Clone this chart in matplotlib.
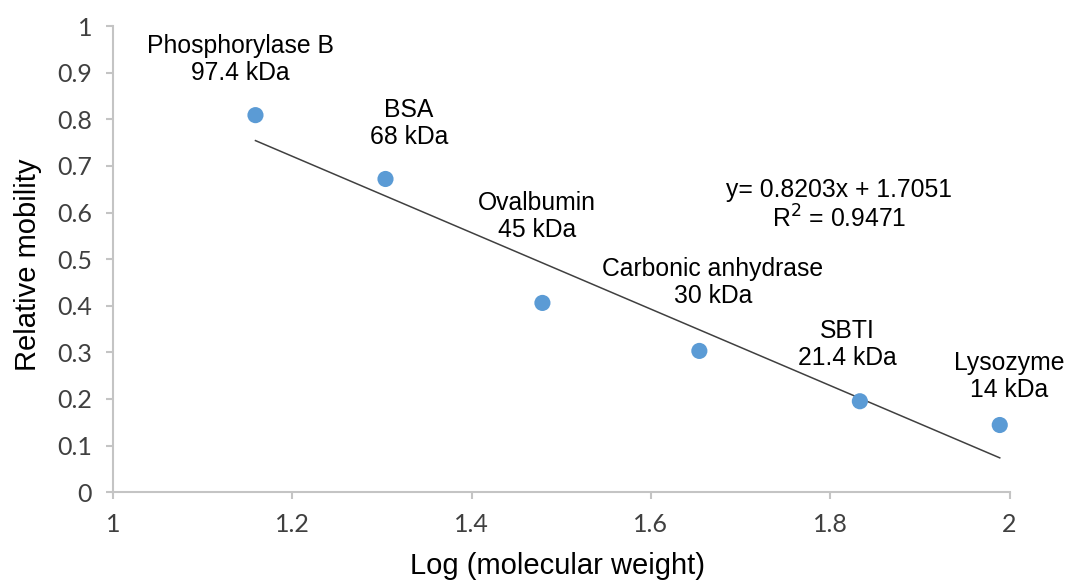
import matplotlib
matplotlib.use('Agg')
import matplotlib.pyplot as plt
import numpy as np

# standards: log(MW) vs relative mobility
proteins = ['Phosphorylase B', 'BSA', 'Ovalbumin', 'Carbonic anhydrase', 'SBTI', 'Lysozyme']
masses = ['97.4 kDa', '68 kDa', '45 kDa', '30 kDa', '21.4 kDa', '14 kDa']
log_mw = [1.159, 1.304, 1.479, 1.654, 1.833, 1.989]
rel_mob = [0.809, 0.672, 0.406, 0.303, 0.195, 0.144]

# linear trendline
slope = -0.8203
intercept = 1.7051
r2 = 0.9471

# where each protein label sits (data coords)
label_pos = [(1.142, 0.928), (1.330, 0.791), (1.473, 0.591),
             (1.669, 0.450), (1.819, 0.317), (2.000, 0.248)]
eq_pos = (1.810, 0.615)

plt.rcParams['font.family'] = ['Liberation Sans', 'DejaVu Sans']

fig = plt.figure(figsize=(10.65, 5.81), dpi=100)
ax = fig.add_axes([0.106, 0.153, 0.842, 0.802])

xs = np.array([min(log_mw), max(log_mw)])
ax.plot(xs, slope * xs + intercept, color='#404040', lw=1.1, zorder=2)
ax.scatter(log_mw, rel_mob, s=135, color='#5b9bd5', edgecolors='none', zorder=3)

for name, mass, (px, py) in zip(proteins, masses, label_pos):
    ax.text(px, py, name + '\n' + mass, ha='center', va='center',
            fontsize=17.8, color='black', linespacing=1.15)

ax.text(eq_pos[0], eq_pos[1],
        'y= %.4fx + %.4f\nR$^2$ = %.4f' % (abs(slope), intercept, r2),
        ha='center', va='center', fontsize=17.8, color='black', linespacing=1.15)

ax.set_xlim(1, 2)
ax.set_ylim(0, 1)
ax.set_xticks([1, 1.2, 1.4, 1.6, 1.8, 2])
ax.set_xticklabels(['1', '1.2', '1.4', '1.6', '1.8', '2'])
ax.set_yticks(np.arange(0, 1.01, 0.1))
ax.set_yticklabels(['0', '0.1', '0.2', '0.3', '0.4', '0.5', '0.6', '0.7', '0.8', '0.9', '1'])

for side in ['top', 'right']:
    ax.spines[side].set_visible(False)
for side in ['left', 'bottom']:
    ax.spines[side].set_color('#c4c4c4')
    ax.spines[side].set_linewidth(1.5)

ax.tick_params(axis='both', direction='out', length=5, width=1.5, color='#c4c4c4',
               labelsize=18, labelcolor='#404040', pad=10)
for lab in ax.get_xticklabels() + ax.get_yticklabels():
    lab.set_family('Lato')

ax.set_xlabel('Log (molecular weight)', fontsize=21, color='black')
ax.set_ylabel('Relative mobility', fontsize=21, color='black')
ax.xaxis.set_label_coords(0.496, -0.128)
ax.yaxis.set_label_coords(-0.079, 0.487)

fig.savefig('out.png', dpi=100)
